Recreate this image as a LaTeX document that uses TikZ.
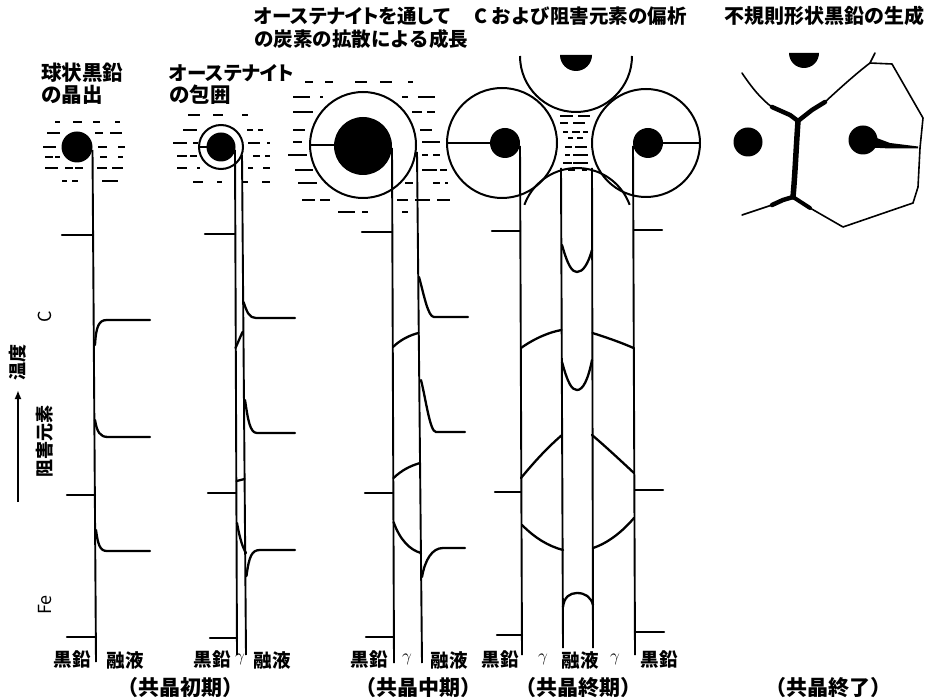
\documentclass[tikz,border=0pt]{standalone}
\usepackage{fontspec}
\usetikzlibrary{arrows.meta}
\newfontfamily\jp{Noto Sans CJK JP}
\newfontfamily\jpk{Noto Sans CJK JP}[RawFeature=+palt]
\begin{document}
\begin{tikzpicture}[x=1pt,y=-1pt,
  prof/.style={line width=2.3pt, line cap=round, line join=round},
  iface/.style={line width=1.9pt},
  dsh/.style={line width=2.1pt},
  ring/.style={line width=2pt},
  gb/.style={line width=1.6pt, line cap=round, line join=round},
  gbthick/.style={line width=4.5pt, line cap=round, line join=round},
  ttl/.style={font=\jp\bfseries\fontsize{19.5}{22}\selectfont, inner sep=0pt, anchor=west},
  ttlk/.style={font=\jpk\bfseries\fontsize{19.5}{22}\selectfont, inner sep=0pt, anchor=west},
  lbl/.style={font=\jp\bfseries\fontsize{18.5}{20}\selectfont, inner sep=0pt},
  stage/.style={font=\jp\bfseries\fontsize{21}{23}\selectfont, inner sep=0pt},
  gam/.style={font=\fontsize{18}{20}\selectfont, inner sep=0pt},
  axis/.style={font=\jp\fontsize{18}{20}\selectfont, inner sep=0pt, rotate=90},
  axisb/.style={axis, font=\jp\bfseries\fontsize{18}{20}\selectfont}
]
\fill[white] (0,0) rectangle (926,700);
\useasboundingbox (0,0) rectangle (926,700);

% ---------- titles ----------
\node[ttl, font=\jp\bfseries\fontsize{20.5}{22}\selectfont]  (t1a) at (41,73) {球状黒鉛};
\node[ttl, font=\jp\bfseries\fontsize{20.5}{22}\selectfont]  (t1b) at (41,95) {の晶出};
\node[ttlk] (t2a) at (169,73) {オーステナイト};
\node[ttl, font=\jp\bfseries\fontsize{20.5}{22}\selectfont]  (t2b) at (169,95) {の包囲};
\node[ttlk] (t3a) at (254,16) {オーステナイトを通して};
\node[ttl]  (t3b) at (254,39) {の炭素の拡散による成長};
\node[ttl]  (t4)  at (474,16) {C および阻害元素の偏析};
\node[ttl, font=\jp\bfseries\fontsize{20}{22}\selectfont]  (t5)  at (724,16) {不規則形状黒鉛の生成};

% ---------- temperature axis ----------
\coordinate (tlo) at (18,502);
\coordinate (thi) at (18,390);
\draw[line width=1.8pt, -{Latex[length=9pt,width=7pt]}] (tlo) -- (thi);
\node[axisb] (temp) at (18,363) {温度};
\node[axis]  (elC)  at (45,317) {C};
\node[axisb] (elX)  at (45,441) {阻害元素};
\node[axis]  (elFe) at (45,605) {Fe};

% ---------- stage 1: graphite nucleation ----------
\foreach \y/\a/\b in {122/55/60,122/73/82,122/93/100,122/115/120,
  133/47/60,133/95/103,133/110/122,
  147/43/56,147/98/107,147/118/125,
  157/45/53,157/55/60,157/100/107,157/118/123,
  168/45/58,168/65/73,168/75/83,168/97/107,168/112/123,
  181/62/67,181/72/78,181/102/118}
  \draw[dsh] (\a,\y) -- (\b,\y);
\fill (77,147) circle[radius=15.5];
\draw[iface] (92.5,150) -- (96,662);
\draw[prof] (62,235) -- (93,235);
\draw[prof] (95,345) .. controls (96,326) and (99,320) .. (107,320) -- (150,320);
\draw[prof] (67,495) -- (95,495);
\draw[prof] (95,420) .. controls (97,432) and (100,437) .. (108,437) -- (150,437);
\draw[prof] (67,637) -- (96,637);
\draw[prof] (96,530) .. controls (98,545) and (100,551) .. (107,551) -- (150,551);

% ---------- stage 2: austenite envelope ----------
\foreach \y/\a/\b in {115/188/200,115/213/223,115/242/248,
  130/183/197,130/247/253,130/258/263,
  143/173/187,143/193/198,143/248/260,143/267/270,
  156/177/187,156/190/197,156/253/260,156/265/270,
  168/177/187,168/197/200,168/248/253,168/263/270,
  182/193/203,182/217/222,182/243/248,182/262/270}
  \draw[dsh] (\a,\y) -- (\b,\y);
\draw[ring] (221,147) circle[radius=22];
\fill (221,147) circle[radius=14.5];
\draw[iface] (199,147) -- (207,147);
\draw[iface] (235,150) -- (237,655);
\draw[iface] (242,155) -- (246,655);
\draw[prof] (205,234) -- (235,234);
\draw[prof] (235.5,348) -- (242.5,332);
\draw[prof] (243.5,302) .. controls (247,312) and (249,318) .. (256,318) -- (295,318);
\draw[prof] (208,493) -- (236,493);
\draw[prof] (236.5,481) -- (244.5,479);
\draw[prof] (245,400) .. controls (248,420) and (250,433) .. (257,433) -- (295,433);
\draw[prof] (210,638) -- (237,638);
\draw[prof] (237,523) .. controls (240,540) and (243,548) .. (246,553);
\draw[prof] (246.5,576) .. controls (249,556) and (252,550) .. (260,550) -- (295,550);

% ---------- stage 3: growth by carbon diffusion ----------
\foreach \y/\a/\b in {82/305/313,82/325/333,82/355/367,82/380/392,82/408/413,
  97/293/310,97/320/323,97/402/408,97/418/435,
  112/293/313,112/412/422,112/427/435,
  130/293/305,130/420/432,
  142/293/302,142/422/440,
  155/288/307,155/422/428,155/433/440,
  170/295/313,170/422/437,170/440/447,
  183/298/317,183/405/413,183/433/440,183/445/448,
  200/302/315,200/320/330,200/397/408,200/415/430,200/437/450,
  212/338/355,212/362/368,212/402/408}
  \draw[dsh] (\a,\y) -- (\b,\y);
\fill[white] (363,145) circle[radius=53];
\draw[ring] (363,145) circle[radius=53];
\fill (363,146) circle[radius=29];
\draw[iface] (310,145) -- (334,145);
\draw[iface] (392,148) -- (394,663);
\draw[iface] (417,152) -- (422,663);
\draw[prof] (362,232) -- (392,232);
\draw[prof] (393,347) .. controls (400,340) and (410,335) .. (418.5,333);
\draw[prof] (419,277) .. controls (424,295) and (428,317) .. (434,317) -- (468,317);
\draw[prof] (365,493) -- (393,493);
\draw[prof] (393.5,478) .. controls (402,470) and (410,466) .. (420,463);
\draw[prof] (421,380) .. controls (426,400) and (430,432) .. (436,432) -- (465,432);
\draw[prof] (366,637) -- (393,637);
\draw[prof] (393.5,522) .. controls (400,540) and (410,550) .. (421,553);
\draw[prof] (422,577) .. controls (425,560) and (432,548) .. (443,548) -- (465,548);

% ---------- stage 4: segregation of C and inhibiting elements ----------
\foreach \y/\a/\b in {116/560/573,116/578/590,
  123/560/568,123/573/585,
  132/563/568,132/572/580,132/583/588,
  138/568/573,138/577/583,
  147/565/572,147/575/587,
  155/565/570,155/573/588,
  163/563/572,163/573/588,
  170/568/575,170/582/587}
  \draw[dsh] (\a,\y) -- (\b,\y);
% top cell (lower half visible)
\draw[ring] (632,56) arc[start angle=0, end angle=180, radius=56];
\fill (592,55) arc[start angle=0, end angle=180, radius=16] -- cycle;
% left and right cells
\draw[ring] (502,143) circle[radius=55];
\draw[ring] (646,143) circle[radius=54];
\fill (505,143) circle[radius=15];
\fill (648,143) circle[radius=15];
\draw[iface] (447,143) -- (490,143);
\draw[iface] (663,143) -- (700,143);
% bottom cell (upper arc visible)
\draw[ring] (577,224) ++(200:56) arc[start angle=200, end angle=340, radius=56];
% interfaces
\draw[iface] (520,146) -- (522,655);
\draw[iface] (633,146) -- (635,655);
\draw[iface] (561,168) -- (563,648);
\draw[iface] (592,168) -- (593,648);
% C profile
\draw[prof] (492,231) -- (520,231);
\draw[prof] (634,230) -- (662,230);
\draw[prof] (521,348) .. controls (535,338) and (550,332) .. (561.5,330);
\draw[prof] (592.5,333) .. controls (605,337) and (620,342) .. (633.5,348);
\draw[prof] (562,245) .. controls (568,266) and (572,272) .. (577,272) .. controls (583,272) and (588,264) .. (592,250);
% inhibiting elements profile
\draw[prof] (495,492) -- (521,492);
\draw[prof] (635,490) -- (663,490);
\draw[prof] (521,478) .. controls (535,461) and (548,447) .. (562,435);
\draw[prof] (592,435) .. controls (605,446) and (620,460) .. (634,473);
\draw[prof] (562,362) .. controls (568,384) and (572,390) .. (577,390) .. controls (583,390) and (588,380) .. (592,360);
% Fe profile
\draw[prof] (497,635) -- (522,635);
\draw[prof] (635,632) -- (664,632);
\draw[prof] (522,525) .. controls (535,538) and (548,546) .. (563,550);
\draw[prof] (593,548) .. controls (608,543) and (622,532) .. (634,518);
\draw[prof] (563,607) .. controls (564,597) and (570,593) .. (577,593) .. controls (585,593) and (591,597) .. (593,605);

% ---------- stage 5: irregular graphite ----------
\fill (819,53) arc[start angle=0, end angle=180, radius=15] -- cycle;
\fill (748,142) circle[radius=14.5];
\fill (863,140) circle[radius=14.5];
\fill (870,135.5) -- (890,143) -- (918,146.5) -- (918,148.5) -- (890,148.5) -- (870,147.5) -- cycle;
\draw[gb] (742,73) .. controls (752,88) and (762,100) .. (772,107);
\draw[gbthick] (772,107) -- (790,115) -- (798,121);
\draw[gbthick] (798,121) -- (812,110) -- (825,102);
\draw[gb] (825,102) .. controls (840,88) and (858,72) .. (870,63) -- (875,53);
\draw[gb] (870,63) -- (892,64) -- (923,118) -- (920,148) -- (918,187) -- (913,203) -- (843,227) -- (810,208);
\draw[line width=5.5pt, line cap=round] (798,121) .. controls (796,150) and (795,175) .. (793,197);
\draw[gbthick] (793,197) -- (783,200) -- (772,205);
\draw[gb] (772,205) -- (742,215);
\draw[line width=4pt, line cap=round] (793,197) -- (810,208);

% ---------- phase labels ----------
\node[lbl] (p1g) at (72,660) {黒鉛};
\node[lbl] (p1l) at (125,660) {融液};
\node[lbl] (p2g) at (212,660) {黒鉛};
\node[gam] (p2y) at (240,659) {$\gamma$};
\node[lbl] (p2l) at (272,660) {融液};
\node[lbl] (p3g) at (369,660) {黒鉛};
\node[gam] (p3y) at (407,659) {$\gamma$};
\node[lbl] (p3l) at (449,660) {融液};
\node[lbl] (p4g) at (500,660) {黒鉛};
\node[gam] (p4y) at (543,659) {$\gamma$};
\node[lbl] (p4l) at (580,660) {融液};
\node[gam] (p4z) at (615,659) {$\gamma$};
\node[lbl] (p4h) at (659,660) {黒鉛};

% ---------- stage names ----------
\node[stage] (s1) at (180,688) {（共晶初期）};
\node[stage] (s2) at (418,688) {（共晶中期）};
\node[stage] (s3) at (578,688) {（共晶終期）};
\node[stage] (s4) at (828,688) {（共晶終了）};
\end{tikzpicture}
\end{document}
